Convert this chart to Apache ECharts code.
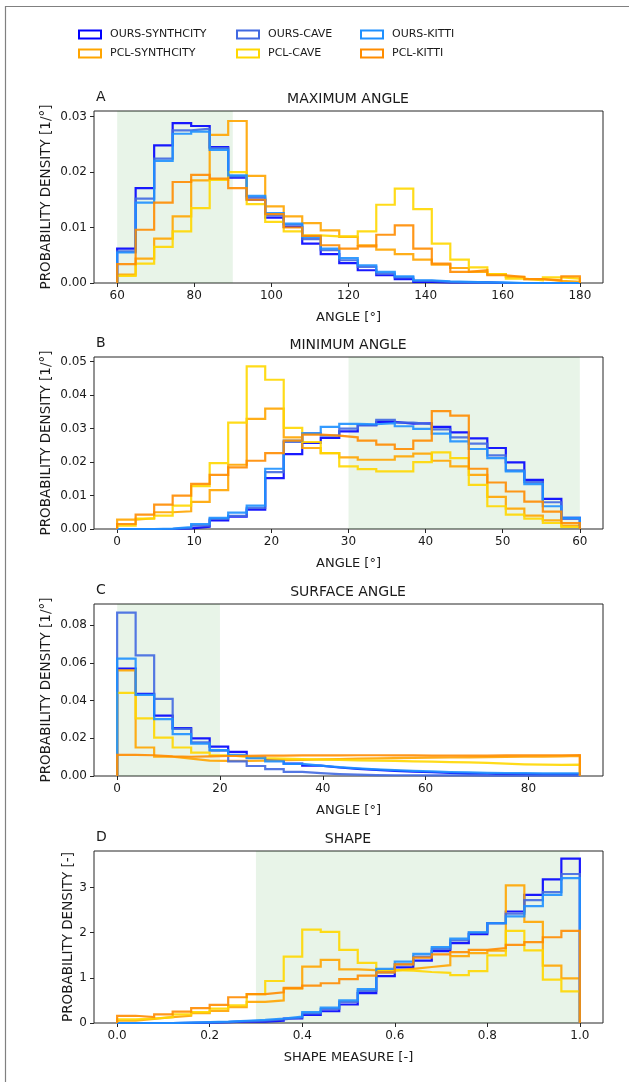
<!DOCTYPE html>
<html>
<head>
<meta charset="utf-8">
<script src="https://cdn.jsdelivr.net/npm/echarts@6/dist/echarts.min.js"></script>
<style>
  html, body { margin: 0; padding: 0; background: #fff; }
  #chart { width: 629px; height: 1082px; }
</style>
</head>
<body>
<div id="chart"></div>
<script>
// legend names, in plotting order
var names = ['OURS-SYNTHCITY', 'PCL-SYNTHCITY', 'OURS-CAVE', 'PCL-CAVE', 'OURS-KITTI', 'PCL-KITTI'];
var colors = ['#0000ff', '#ffa500', '#4169e1', '#ffd700', '#1e90ff', '#ff8c00'];

var panelTitles = ['MAXIMUM ANGLE', 'MINIMUM ANGLE', 'SURFACE ANGLE', 'SHAPE'];
var panelLetters = ['A', 'B', 'C', 'D'];
var xNames = ['ANGLE [°]', 'ANGLE [°]', 'ANGLE [°]', 'SHAPE MEASURE [-]'];
var yNames = ['PROBABILITY DENSITY [1/°]', 'PROBABILITY DENSITY [1/°]', 'PROBABILITY DENSITY [1/°]', 'PROBABILITY DENSITY [-]'];

// histogram ranges (25 bins each) and green "good" spans
var binRanges = [[60, 180], [0, 60], [0, 90], [0, 1]];
var goodSpans = [[60, 90], [30, 60], [0, 20], [0.3, 1.0]];

// tick labels
var aXTicks = [60, 80, 100, 120, 140, 160, 180];
var bXTicks = [0, 10, 20, 30, 40, 50, 60];
var cXTicks = [0, 20, 40, 60, 80];
var dXTicks = [0, 0.2, 0.4, 0.6, 0.8, 1.0];
var aYTicks = [0, 0.01, 0.02, 0.03];
var bYTicks = [0, 0.01, 0.02, 0.03, 0.04, 0.05];
var cYTicks = [0, 0.02, 0.04, 0.06, 0.08];
var dYTicks = [0, 1, 2, 3];

// A: maximum angle
var aOursSynth = [0.0062, 0.0171, 0.0248, 0.0288, 0.0283, 0.0245, 0.0190, 0.0150, 0.0118, 0.0101, 0.0071, 0.0052, 0.0036, 0.0023, 0.0014, 0.0007, 0.0002, 0.0001, 0.0001, 0.0001, 0, 0, 0, 0, 0];
var aOursCave = [0.0057, 0.0152, 0.0224, 0.0275, 0.0278, 0.0243, 0.0192, 0.0154, 0.0122, 0.0105, 0.0079, 0.0059, 0.0041, 0.0029, 0.0017, 0.0010, 0.0004, 0.0002, 0.0001, 0.0001, 0, 0, 0, 0, 0];
var aOursKitti = [0.0055, 0.0145, 0.0220, 0.0269, 0.0273, 0.0240, 0.0194, 0.0157, 0.0126, 0.0107, 0.0083, 0.0062, 0.0045, 0.0032, 0.0020, 0.0012, 0.0005, 0.0003, 0.0002, 0.0001, 0.0001, 0, 0, 0, 0];
var aPclSynth = [0.0015, 0.0044, 0.0080, 0.0120, 0.0185, 0.0267, 0.0292, 0.0193, 0.0138, 0.0120, 0.0108, 0.0095, 0.0083, 0.0068, 0.0060, 0.0052, 0.0042, 0.0033, 0.0027, 0.0020, 0.0016, 0.0011, 0.0007, 0.0004, 0.0002];
var aPclCave = [0.0013, 0.0035, 0.0065, 0.0093, 0.0135, 0.0186, 0.0200, 0.0142, 0.0110, 0.0093, 0.0086, 0.0084, 0.0084, 0.0093, 0.0141, 0.0170, 0.0133, 0.0071, 0.0042, 0.0028, 0.0016, 0.0008, 0.0005, 0.0010, 0.0008];
var aPclKitti = [0.0034, 0.0096, 0.0145, 0.0182, 0.0195, 0.0188, 0.0171, 0.0150, 0.0124, 0.0100, 0.0085, 0.0068, 0.0062, 0.0066, 0.0087, 0.0104, 0.0062, 0.0035, 0.0020, 0.0023, 0.0014, 0.0011, 0.0007, 0.0005, 0.0012];

// B: minimum angle
var bOursSynth = [0, 0, 0, 0.0002, 0.0007, 0.0026, 0.0037, 0.0058, 0.0152, 0.0224, 0.0257, 0.0272, 0.0292, 0.0310, 0.0320, 0.0315, 0.0316, 0.0305, 0.0289, 0.0271, 0.0242, 0.0199, 0.0147, 0.0090, 0.0033];
var bOursCave = [0, 0, 0, 0.0003, 0.0010, 0.0030, 0.0039, 0.0063, 0.0170, 0.0260, 0.0286, 0.0279, 0.0300, 0.0310, 0.0326, 0.0318, 0.0313, 0.0298, 0.0274, 0.0255, 0.0220, 0.0175, 0.0140, 0.0080, 0.0030];
var bOursKitti = [0, 0, 0.0001, 0.0006, 0.0015, 0.0033, 0.0049, 0.0070, 0.0180, 0.0264, 0.0286, 0.0305, 0.0314, 0.0313, 0.0316, 0.0307, 0.0299, 0.0285, 0.0262, 0.0239, 0.0212, 0.0172, 0.0134, 0.0068, 0.0033];
var bPclSynth = [0.0028, 0.0032, 0.0050, 0.0053, 0.0081, 0.0116, 0.0192, 0.0329, 0.0360, 0.0274, 0.0242, 0.0227, 0.0214, 0.0207, 0.0207, 0.0217, 0.0225, 0.0204, 0.0187, 0.0162, 0.0096, 0.0061, 0.0040, 0.0026, 0.0010];
var bPclCave = [0.0010, 0.0031, 0.0040, 0.0070, 0.0128, 0.0197, 0.0318, 0.0486, 0.0446, 0.0302, 0.0260, 0.0227, 0.0187, 0.0179, 0.0172, 0.0172, 0.0200, 0.0229, 0.0212, 0.0132, 0.0068, 0.0043, 0.0031, 0.0018, 0.0006];
var bPclKitti = [0.0015, 0.0043, 0.0073, 0.0100, 0.0135, 0.0162, 0.0184, 0.0204, 0.0227, 0.0264, 0.0282, 0.0279, 0.0274, 0.0264, 0.0252, 0.0239, 0.0264, 0.0352, 0.0339, 0.0180, 0.0139, 0.0112, 0.0082, 0.0052, 0.0018];

// C: surface angle
var cOursSynth = [0.0569, 0.0436, 0.0320, 0.0254, 0.0199, 0.0156, 0.0128, 0.0098, 0.0084, 0.0066, 0.0055, 0.0045, 0.0038, 0.0032, 0.0027, 0.0023, 0.0020, 0.0016, 0.0013, 0.0012, 0.0010, 0.0010, 0.0009, 0.0009, 0.0009];
var cOursCave = [0.0866, 0.0640, 0.0409, 0.0250, 0.0178, 0.0135, 0.0078, 0.0053, 0.0036, 0.0022, 0.0015, 0.0010, 0.0007, 0.0005, 0.0004, 0.0004, 0.0003, 0.0003, 0.0003, 0.0002, 0.0002, 0.0002, 0.0002, 0.0002, 0.0002];
var cOursKitti = [0.0622, 0.0430, 0.0302, 0.0222, 0.0172, 0.0137, 0.0112, 0.0094, 0.0078, 0.0064, 0.0055, 0.0047, 0.0040, 0.0035, 0.0031, 0.0027, 0.0024, 0.0021, 0.0019, 0.0017, 0.0016, 0.0015, 0.0014, 0.0014, 0.0014];
var cPclSynth = [0.0560, 0.0151, 0.0102, 0.0092, 0.0082, 0.0080, 0.0080, 0.0082, 0.0084, 0.0086, 0.0088, 0.0090, 0.0092, 0.0093, 0.0095, 0.0096, 0.0097, 0.0098, 0.0099, 0.0100, 0.0101, 0.0102, 0.0103, 0.0104, 0.0106];
var cPclCave = [0.0441, 0.0306, 0.0204, 0.0151, 0.0124, 0.0110, 0.0101, 0.0095, 0.0092, 0.0090, 0.0087, 0.0085, 0.0083, 0.0081, 0.0080, 0.0078, 0.0076, 0.0074, 0.0072, 0.0070, 0.0066, 0.0062, 0.0060, 0.0059, 0.0060];
var cPclKitti = [0.0112, 0.0110, 0.0104, 0.0102, 0.0104, 0.0106, 0.0107, 0.0108, 0.0108, 0.0109, 0.0109, 0.0109, 0.0110, 0.0110, 0.0109, 0.0109, 0.0108, 0.0108, 0.0108, 0.0108, 0.0109, 0.0109, 0.0110, 0.0110, 0.0111];

// D: shape
var dOursSynth = [0, 0, 0, 0, 0.01, 0.02, 0.03, 0.03, 0.05, 0.10, 0.18, 0.26, 0.41, 0.66, 1.04, 1.23, 1.38, 1.59, 1.77, 1.97, 2.21, 2.47, 2.84, 3.18, 3.64];
var dOursCave = [0, 0, 0, 0.01, 0.01, 0.02, 0.04, 0.05, 0.08, 0.12, 0.21, 0.31, 0.47, 0.71, 1.12, 1.30, 1.47, 1.64, 1.83, 2.00, 2.21, 2.42, 2.72, 2.90, 3.30];
var dOursKitti = [0, 0, 0, 0.01, 0.02, 0.03, 0.05, 0.07, 0.10, 0.14, 0.24, 0.34, 0.50, 0.75, 1.20, 1.36, 1.53, 1.68, 1.87, 2.01, 2.21, 2.36, 2.59, 2.84, 3.21];
var dPclSynth = [0.05, 0.09, 0.13, 0.16, 0.22, 0.27, 0.35, 0.47, 0.50, 0.76, 1.25, 1.40, 1.19, 1.17, 1.16, 1.20, 1.24, 1.28, 1.48, 1.55, 1.60, 3.05, 2.24, 1.27, 0.99];
var dPclCave = [0.08, 0.10, 0.13, 0.19, 0.24, 0.32, 0.39, 0.64, 0.93, 1.47, 2.07, 2.02, 1.62, 1.33, 1.17, 1.16, 1.13, 1.11, 1.06, 1.15, 1.50, 2.04, 1.61, 0.96, 0.70];
var dPclKitti = [0.16, 0.13, 0.19, 0.25, 0.33, 0.40, 0.57, 0.64, 0.68, 0.78, 0.83, 0.88, 0.97, 1.05, 1.12, 1.30, 1.45, 1.52, 1.57, 1.62, 1.66, 1.73, 1.79, 1.90, 2.04];

var panelSeries = [
  [aOursSynth, aPclSynth, aOursCave, aPclCave, aOursKitti, aPclKitti],
  [bOursSynth, bPclSynth, bOursCave, bPclCave, bOursKitti, bPclKitti],
  [cOursSynth, cPclSynth, cOursCave, cPclCave, cOursKitti, cPclKitti],
  [dOursSynth, dPclSynth, dOursCave, dPclCave, dOursKitti, dPclKitti]
];
var xTicks = [aXTicks, bXTicks, cXTicks, dXTicks];
var yTicks = [aYTicks, bYTicks, cYTicks, dYTicks];

// outline of a step histogram
function hist(vals, range) {
  var w = (range[1] - range[0]) / vals.length;
  var pts = [[range[0], 0]];
  vals.forEach(function (v, i) {
    pts.push([range[0] + i * w, v]);
    pts.push([range[0] + (i + 1) * w, v]);
  });
  pts.push([range[1], 0]);
  return pts;
}

var FONT = 'DejaVu Sans';
var INK = '#1a1a1a';
var gridTops = [111, 357, 604, 851];
var gridH = 172;
var yMax = [0.031, 0.0514, 0.0912, 3.81];
var yDigits = [2, 2, 2, 0];
var yGaps = [41, 41, 41, 19];

var grids = [], xAxes = [], yAxes = [], series = [], graphics = [];

for (var k = 0; k < 4; k++) {
  var r = binRanges[k];
  var pad = (r[1] - r[0]) * 0.05;
  grids.push({ left: 94, top: gridTops[k], width: 509, height: gridH, show: true,
    borderColor: '#262626', borderWidth: 1, backgroundColor: 'transparent' });
  xAxes.push({
    type: 'value', gridIndex: k, min: r[0] - pad, max: r[1] + pad,
    name: xNames[k], nameLocation: 'middle', nameGap: 28,
    nameTextStyle: { fontFamily: FONT, fontSize: 13, color: INK },
    axisLine: { show: false, onZero: false },
    splitLine: { show: false },
    axisTick: { show: true, length: 4, lineStyle: { color: '#262626' }, customValues: xTicks[k] },
    axisLabel: { fontFamily: FONT, fontSize: 12, color: INK, margin: 7, customValues: xTicks[k],
      formatter: (function (kk) { return function (v) { return kk === 3 ? v.toFixed(1) : String(v); }; })(k) }
  });
  yAxes.push({
    type: 'value', gridIndex: k, min: 0, max: yMax[k],
    name: yNames[k], nameLocation: 'middle', nameGap: yGaps[k], nameMoveOverlap: false,
    nameTextStyle: { fontFamily: FONT, fontSize: 13.5, color: INK },
    axisLine: { show: false, onZero: false },
    splitLine: { show: false },
    axisTick: { show: true, length: 4, lineStyle: { color: '#262626' }, customValues: yTicks[k] },
    axisLabel: { fontFamily: FONT, fontSize: 12, color: INK, margin: 7, customValues: yTicks[k],
      formatter: (function (kk) { return function (v) { return v.toFixed(yDigits[kk]); }; })(k) }
  });
  // green shaded span
  series.push({
    type: 'line', name: 'span' + k, xAxisIndex: k, yAxisIndex: k, data: [], z: 1, silent: true,
    markArea: { silent: true, itemStyle: { color: 'rgba(0,128,0,0.09)' },
      data: [[{ xAxis: goodSpans[k][0] }, { xAxis: goodSpans[k][1] }]] }
  });
  panelSeries[k].forEach(function (vals, i) {
    series.push({
      type: 'line', name: names[i], xAxisIndex: k, yAxisIndex: k,
      data: hist(vals, binRanges[k]), showSymbol: false, symbol: 'none', silent: true,
      animation: false, z: 2 + i,
      lineStyle: { color: colors[i], width: 2.2, opacity: 0.9, join: 'miter' }
    });
  });
  graphics.push({ type: 'text', x: 348, y: gridTops[k] - 12,
    style: { text: panelTitles[k], fontFamily: FONT, fontSize: 14, fill: INK,
      align: 'center', verticalAlign: 'middle', textAlign: 'center', textVerticalAlign: 'middle' } });
  graphics.push({ type: 'text', x: 96, y: gridTops[k] - 14,
    style: { text: panelLetters[k], fontFamily: FONT, fontSize: 14, fill: INK,
      align: 'left', verticalAlign: 'middle', textAlign: 'left', textVerticalAlign: 'middle' } });
}

// outer frame of the figure
graphics.push({ type: 'rect', shape: { x: 5.5, y: 6.5, width: 700, height: 1100 },
  style: { fill: 'none', stroke: '#808080', lineWidth: 1.2 }, z: -1 });

function legendCol(left, items) {
  return {
    left: left, top: 24, orient: 'vertical', icon: 'rect', itemWidth: 22, itemHeight: 8, itemGap: 8,
    selectedMode: false,
    textStyle: { fontFamily: FONT, fontSize: 11, color: INK, padding: [0, 0, 0, 4] },
    data: items.map(function (i) {
      return { name: names[i], itemStyle: { color: '#fff', borderColor: colors[i], borderWidth: 2 } };
    })
  };
}

var chart = echarts.init(document.getElementById('chart'), null, { renderer: 'canvas' });
chart.setOption({
  backgroundColor: '#fff',
  animation: false,
  legend: [legendCol(73, [0, 1]), legendCol(231, [2, 3]), legendCol(355, [4, 5])],
  grid: grids,
  xAxis: xAxes,
  yAxis: yAxes,
  series: series,
  graphic: graphics
});
</script>
</body>
</html>
